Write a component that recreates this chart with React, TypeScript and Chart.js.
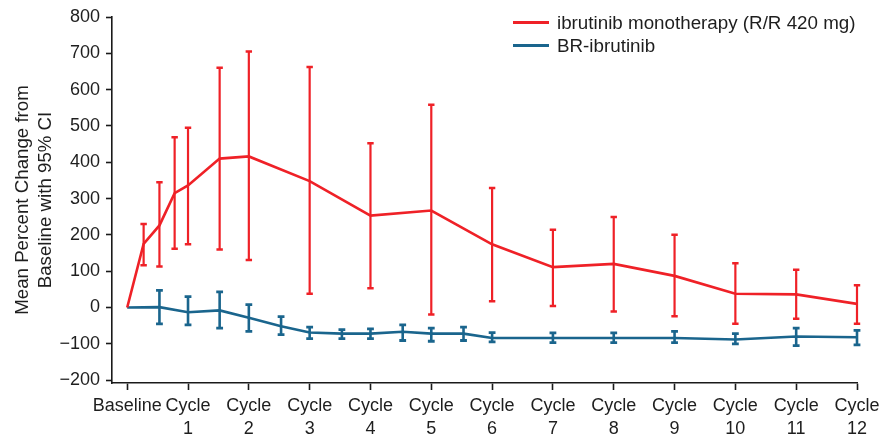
import React, { useEffect, useRef } from "react";
import { Chart, registerables } from "chart.js";

Chart.register(...registerables);

// Axis ticks
const xTickValues = [0, 1, 2, 3, 4, 5, 6, 7, 8, 9, 10, 11, 12];
const xTickLabels = [
  ["Baseline"],
  ["Cycle", "1"],
  ["Cycle", "2"],
  ["Cycle", "3"],
  ["Cycle", "4"],
  ["Cycle", "5"],
  ["Cycle", "6"],
  ["Cycle", "7"],
  ["Cycle", "8"],
  ["Cycle", "9"],
  ["Cycle", "10"],
  ["Cycle", "11"],
  ["Cycle", "12"],
];
const yTickValues = [-200, -100, 0, 100, 200, 300, 400, 500, 600, 700, 800];
const yTitle = ["Mean Percent Change from", "Baseline with 95% CI"];

// Series 1: ibrutinib monotherapy
const monoLabel = "ibrutinib monotherapy (R/R 420 mg)";
const monoX = [0, 0.27, 0.53, 0.78, 1, 1.52, 2, 3, 4, 5, 6, 7, 8, 9, 10, 11, 12];
const monoMean = [0, 175, 226, 315, 336, 410, 416, 348, 253, 267, 174, 111, 120, 87, 38, 36, 10];
const monoLow = [null, 116, 113, 162, 174, 160, 131, 38, 53, -19, 17, 4, -11, -24, -45, -31, -45];
const monoHigh = [null, 230, 345, 469, 495, 660, 705, 662, 452, 558, 329, 214, 249, 200, 122, 104, 61];

// Series 2: BR-ibrutinib
const brLabel = "BR-ibrutinib";
const brX = [0, 0.53, 1, 1.52, 2, 2.53, 3, 3.53, 4, 4.53, 5, 5.53, 6, 7, 8, 9, 10, 11, 12];
const brMean = [0, 1, -13, -8, -28, -52, -69, -72, -72, -67, -72, -72, -84, -84, -84, -84, -88, -80, -82];
const brLow = [null, -45, -48, -57, -66, -75, -86, -86, -86, -91, -93, -91, -95, -97, -97, -97, -100, -105, -103];
const brHigh = [null, 47, 30, 43, 8, -25, -54, -61, -59, -48, -57, -54, -69, -70, -70, -66, -72, -57, -63];

const RED = "#ef2127";
const BLUE = "#1a658d";
const TEXT = "#1e1e1e";
const FONT = "'Liberation Sans', Arial, Helvetica, sans-serif";

const errorBarPlugin = {
  id: "errorBars",
  afterDatasetsDraw(chart: any) {
    const { ctx, scales } = chart;
    const xs = scales.x;
    const ys = scales.y;
    chart.data.datasets.forEach((ds: any, i: number) => {
      const meta = chart.getDatasetMeta(i);
      if (meta.hidden) return;
      ctx.save();
      ctx.strokeStyle = ds.borderColor;
      ctx.lineCap = "butt";
      const cap = ds.capHalf;
      ds.data.forEach((pt: any, j: number) => {
        const lo = ds.errLow[j];
        const hi = ds.errHigh[j];
        if (lo == null || hi == null) return;
        const px = xs.getPixelForValue(pt.x);
        const yl = ys.getPixelForValue(lo);
        const yh = ys.getPixelForValue(hi);
        ctx.lineWidth = ds.errWidth;
        ctx.beginPath();
        ctx.moveTo(px, yl);
        ctx.lineTo(px, yh);
        ctx.stroke();
        ctx.lineWidth = ds.capWidth;
        ctx.beginPath();
        ctx.moveTo(px - cap, yl);
        ctx.lineTo(px + cap, yl);
        ctx.moveTo(px - cap, yh);
        ctx.lineTo(px + cap, yh);
        ctx.stroke();
      });
      ctx.restore();
    });
  },
};

const legendPlugin = {
  id: "customLegend",
  afterDraw(chart: any) {
    const { ctx } = chart;
    const x0 = 513;
    const x1 = 549;
    const tx = 557;
    const y0 = 22.5;
    const rowH = 23;
    ctx.save();
    chart.data.datasets.forEach((ds: any, i: number) => {
      const y = y0 + i * rowH;
      ctx.strokeStyle = ds.borderColor;
      ctx.lineWidth = 3;
      ctx.beginPath();
      ctx.moveTo(x0, y);
      ctx.lineTo(x1, y);
      ctx.stroke();
      ctx.fillStyle = TEXT;
      ctx.font = `18.8px ${FONT}`;
      ctx.textBaseline = "middle";
      ctx.textAlign = "left";
      ctx.fillText(ds.label, tx, y + 1);
    });
    ctx.restore();
  },
};

export default function App() {
  const canvasRef = useRef<HTMLCanvasElement | null>(null);

  useEffect(() => {
    if (!canvasRef.current) return;
    const chart = new Chart(canvasRef.current, {
      type: "line",
      data: {
        datasets: [
          {
            label: monoLabel,
            data: monoX.map((x, i) => ({ x, y: monoMean[i] })),
            borderColor: RED,
            backgroundColor: RED,
            borderWidth: 2.6,
            pointRadius: 0,
            tension: 0,
            errLow: monoLow,
            errHigh: monoHigh,
            errWidth: 2.2,
            capWidth: 2.5,
            capHalf: 3.2,
          } as any,
          {
            label: brLabel,
            data: brX.map((x, i) => ({ x, y: brMean[i] })),
            borderColor: BLUE,
            backgroundColor: BLUE,
            borderWidth: 2.6,
            pointRadius: 0,
            tension: 0,
            errLow: brLow,
            errHigh: brHigh,
            errWidth: 2.6,
            capWidth: 2.8,
            capHalf: 3.4,
          } as any,
        ],
      },
      options: {
        animation: false,
        responsive: false,
        layout: { padding: { top: 17, right: 37, bottom: 0, left: 0 } },
        plugins: {
          legend: { display: false },
          tooltip: { enabled: false },
        },
        scales: {
          x: {
            type: "linear",
            min: -0.25,
            max: 12,
            afterBuildTicks: (scale: any) => {
              scale.ticks = xTickValues.map((v) => ({ value: v }));
            },
            afterFit: (scale: any) => {
              scale.height = 52;
            },
            border: { display: true, color: "#1a1a1a", width: 1.6 },
            grid: {
              display: true,
              drawOnChartArea: false,
              drawTicks: true,
              tickLength: 7,
              tickColor: "#1a1a1a",
              tickWidth: 1.6,
            },
            ticks: {
              autoSkip: false,
              maxRotation: 0,
              minRotation: 0,
              padding: 4,
              color: TEXT,
              font: { family: FONT, size: 18, lineHeight: 1.3 },
              callback: (value: any) => {
                const idx = xTickValues.indexOf(Number(value));
                return idx >= 0 ? xTickLabels[idx] : "";
              },
            },
          },
          y: {
            type: "linear",
            min: -208,
            max: 800,
            afterBuildTicks: (scale: any) => {
              scale.ticks = yTickValues.map((v) => ({ value: v }));
            },
            afterFit: (scale: any) => {
              scale.width = 112;
            },
            border: { display: true, color: "#1a1a1a", width: 1.6 },
            grid: {
              display: true,
              drawOnChartArea: false,
              drawTicks: true,
              tickLength: 6,
              tickColor: "#1a1a1a",
              tickWidth: 1.6,
            },
            title: {
              display: true,
              text: yTitle,
              color: TEXT,
              font: { family: FONT, size: 18.7, lineHeight: 1.2 },
              padding: { top: 12, bottom: 0 },
            },
            ticks: {
              padding: 6,
              color: TEXT,
              font: { family: FONT, size: 18 },
              callback: (value: any) => {
                const v = Number(value);
                return v < 0 ? "\u2212" + Math.abs(v) : String(v);
              },
            },
          },
        },
      },
      plugins: [errorBarPlugin, legendPlugin],
    });
    return () => chart.destroy();
  }, []);

  return (
    <div style={{ position: "absolute", left: 0, top: 0, width: 894, height: 435, background: "#fff" }}>
      <canvas ref={canvasRef} width={894} height={435} />
    </div>
  );
}
